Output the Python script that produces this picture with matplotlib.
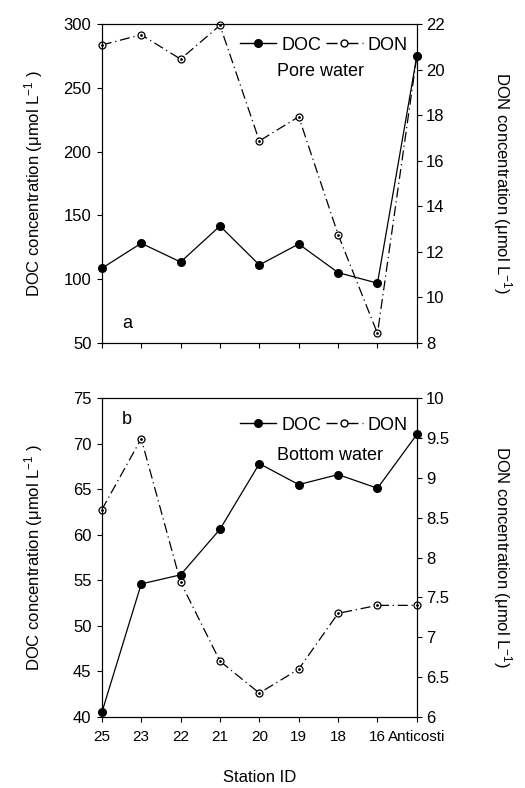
import matplotlib.pyplot as plt
from matplotlib.lines import Line2D

plt.rcParams['font.family'] = ['Liberation Sans', 'DejaVu Sans']
plt.rcParams['font.size'] = 12
plt.rcParams['mathtext.fontset'] = 'custom'
plt.rcParams['mathtext.rm'] = 'Liberation Sans'
plt.rcParams['mathtext.it'] = 'Liberation Sans'

stations = ["25", "23", "22", "21", "20", "19", "18", "16", "Anticosti"]

# pore water (a)
doc_pore = [108.6, 128.2, 113.5, 141.7, 111.2, 127.6, 105.2, 96.9, 275.0]
don_pore = [21.08, 21.53, 20.46, 21.94, 16.87, 17.93, 12.76, 8.42, 20.6]

# bottom water (b)
doc_bot = [40.5, 54.6, 55.6, 60.6, 67.8, 65.5, 66.6, 65.1, 71.0]
don_bot = [8.6, 9.49, 7.69, 6.70, 6.30, 6.60, 7.30, 7.40, 7.40]

x = list(range(len(stations)))
dashdot = (0, (8, 3, 1, 3))

fig = plt.figure(figsize=(5.25, 7.88), dpi=100)


def panel(rect, doc, don, ylim1, yt1, ylim2, yt2, name, name_y, leg_y, letter, letter_pos, show_x):
    ax = fig.add_axes(rect)
    ax2 = ax.twinx()
    ax.plot(x, doc, color='black', lw=0.9, marker='o', ms=5.5, zorder=3, clip_on=False)
    ax2.plot(x, don, color='black', lw=0.9, ls=dashdot, marker='o', ms=5,
             mfc='white', mec='black', mew=0.9, clip_on=False)
    ax2.plot(x, don, ls='none', marker='o', ms=1.0, color='black', clip_on=False)
    ax.set_xlim(0, 8)
    ax.set_ylim(*ylim1)
    ax.set_yticks(yt1)
    ax2.set_ylim(*ylim2)
    ax2.set_yticks(yt2)
    ax2.set_yticklabels([f"{v:g}" for v in yt2])
    ax.set_xticks(x)
    if show_x:
        ax.set_xticklabels(stations, fontsize=11)
        ax.set_xlabel("Station ID", va='center')
        ax.xaxis.set_label_coords(0.5, -0.19)
    else:
        ax.set_xticklabels([])
    ax.tick_params(axis='x', direction='out', length=3.5, width=0.8, pad=6)
    ax.tick_params(axis='y', direction='out', length=3.5, width=0.8, pad=4)
    ax2.tick_params(axis='y', direction='out', length=3.5, width=0.8, pad=3)
    for a in (ax, ax2):
        for s in a.spines.values():
            s.set_linewidth(0.8)
    ax.set_ylabel(r"DOC concentration ($\mu$mol L$^{-1}$ )", va='center')
    ax.yaxis.set_label_coords(-0.216, 0.5)
    ax2.set_ylabel(r"DON concentration ($\mu$mol L$^{-1}$)", rotation=270, va='center')
    ax2.yaxis.set_label_coords(1.273, 0.5)
    handles = [
        Line2D([], [], color='black', lw=1.0, marker='o', ms=5.5),
        Line2D([], [], color='black', lw=1.0, ls=dashdot, marker='o', ms=5,
               mfc='white', mec='black'),
    ]
    ax.legend(handles, ["DOC", "DON"], loc='center right', bbox_to_anchor=(0.995, leg_y),
              ncol=2, frameon=False, handlelength=2.0, handletextpad=0.3,
              columnspacing=0.3, borderaxespad=0.0, fontsize=13)
    ax.text(0.555, name_y, name, transform=ax.transAxes, fontsize=13, ha='left', va='center')
    ax.text(letter_pos[0], letter_pos[1], letter, transform=ax.transAxes, fontsize=13,
            ha='center', va='center')
    ax.set_zorder(ax2.get_zorder() + 1)
    ax.patch.set_visible(False)
    return ax


panel([0.194, 0.5647, 0.6, 0.4048], doc_pore, don_pore, (50, 300),
      [50, 100, 150, 200, 250, 300], (8, 22), [8, 10, 12, 14, 16, 18, 20, 22],
      "Pore water", 0.85, 0.934, "a", (0.08, 0.06), False)
panel([0.194, 0.0901, 0.6, 0.4048], doc_bot, don_bot, (40, 75),
      [40, 45, 50, 55, 60, 65, 70, 75], (6, 10), [6, 6.5, 7, 7.5, 8, 8.5, 9, 9.5, 10],
      "Bottom water", 0.82, 0.915, "b", (0.08, 0.934), True)

fig.savefig("out.png", dpi=100)
